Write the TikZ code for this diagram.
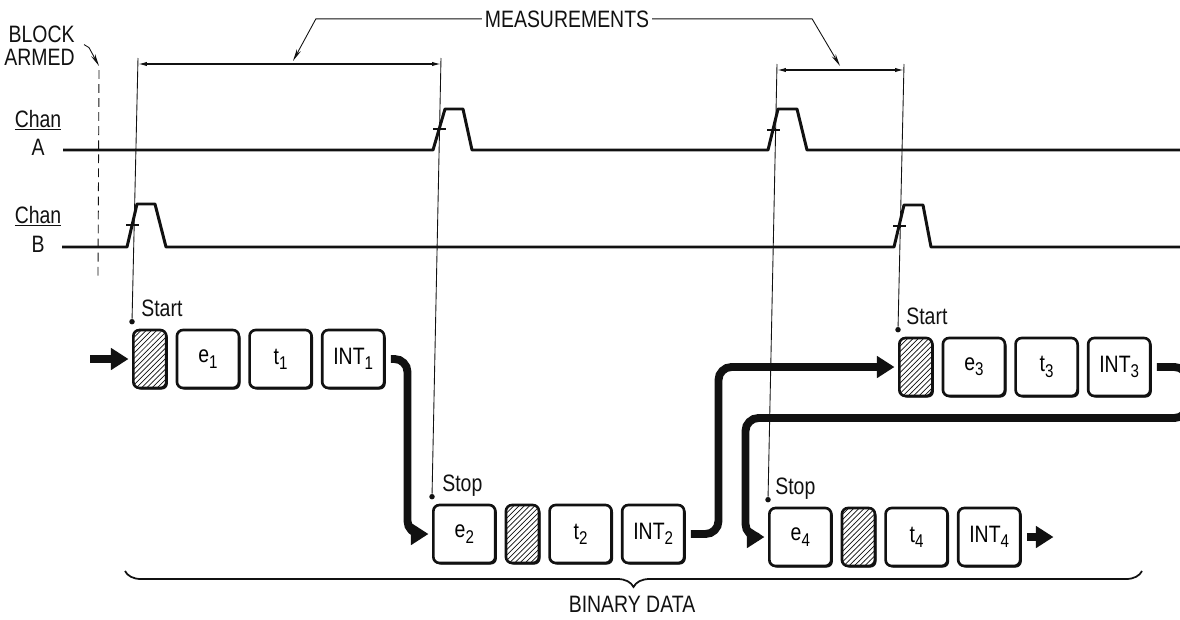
\documentclass[tikz,border=0pt]{standalone}
\usepackage{fontspec}
\setmainfont{Liberation Sans}[FakeStretch=0.82]
\usepackage{xcolor}
\usepackage{tikz}
\usetikzlibrary{arrows.meta, positioning, calc, patterns, shadows, decorations.pathreplacing}
\definecolor{tdInk}{HTML}{111111}
\newcommand{\tdsub}[1]{\raisebox{-3pt}{\fontsize{10.5}{10.5}\selectfont #1}}
\tikzset{
  tdcell/.style={draw=tdInk, fill=white, line width=1.5pt, rounded corners=3.5pt, minimum width=1.24cm,
                 minimum height=1.16cm, inner sep=0pt, font=\fontsize{13.5}{13.5}\selectfont,
                 drop shadow={shadow xshift=0.9pt, shadow yshift=-0.9pt, fill=tdInk, opacity=1}},
  tdhatch/.style={tdcell, minimum width=0.66cm, preaction={fill=white},
                  pattern=north east lines, pattern color=tdInk},
  tdsig/.style={draw=tdInk, line width=1.7pt, line join=round},
  tdflow/.style={draw=tdInk, line width=4.5pt, rounded corners=0.26cm, shorten >=2pt,
                 -{Triangle[length=10pt,width=12pt]}},
  tdext/.style={draw=tdInk, line width=0.5pt},
  tddim/.style={draw=tdInk, line width=0.7pt, {Latex[length=5pt,width=2.4pt]}-{Latex[length=5pt,width=2.4pt]}},
  tdcall/.style={draw=tdInk, line width=0.5pt, -{Stealth[length=7pt,width=2.6pt]}},
  tdtick/.style={draw=tdInk, line width=0.9pt},
  tdlbl/.style={font=\fontsize{13.5}{13}\selectfont, inner sep=0pt, text=tdInk},
  tddot/.style={circle, fill=tdInk, inner sep=0pt, minimum size=0.11cm},
}

\begin{document}
\begin{tikzpicture}[x=0.02cm, y=-0.02cm]
\useasboundingbox (0,0) rectangle (1180,619);

% channel names
\node[tdlbl, anchor=base] (chA) at (38,127) {\underline{Chan}};
\node[tdlbl, anchor=base] (lbA) at (38,155) {A};
\node[tdlbl, anchor=base] (chB) at (38,223) {\underline{Chan}};
\node[tdlbl, anchor=base] (lbB) at (38,252) {B};
\node[tdlbl, anchor=base east] (blk) at (75,42) {BLOCK};
\node[tdlbl, anchor=base east] (arm) at (75,65) {ARMED};

% waveforms
\draw[tdsig] (63,150) -- (433,150) -- (445,109) -- (463,109) -- (472,150) -- (768,150)
  -- (778,109) -- (797,109) -- (807,150) -- (1180,150);
\draw[tdsig] (62,247) -- (127,247) -- (137,204) -- (155,204) -- (166,247) -- (894,247)
  -- (904,205) -- (923,205) -- (931,247) -- (1180,247);
\draw[tdtick] (433,129) -- ++(13,0);
\draw[tdtick] (767,130) -- ++(13,0);
\draw[tdtick] (126,225) -- ++(13,0);
\draw[tdtick] (893,226) -- ++(13,0);
\draw[tdext, dash pattern=on 5pt off 3pt] (99,70) -- (98,276);

% data blocks
\node[tdhatch, anchor=west] (h1) at (132,359) {};
\node[tdcell, right=0.16cm of h1] (e1) {e\tdsub{1}};
\node[tdcell, right=0.16cm of e1] (t1) {t\tdsub{1}};
\node[tdcell, right=0.16cm of t1] (int1) {INT\tdsub{1}};

\node[tdcell, anchor=west] (e2) at (432,534) {e\tdsub{2}};
\node[tdhatch, right=0.16cm of e2] (h2) {};
\node[tdcell, right=0.16cm of h2] (t2) {t\tdsub{2}};
\node[tdcell, right=0.16cm of t2] (int2) {INT\tdsub{2}};

\node[tdhatch, anchor=west] (h3) at (898,367) {};
\node[tdcell, right=0.16cm of h3] (e3) {e\tdsub{3}};
\node[tdcell, right=0.16cm of e3] (t3) {t\tdsub{3}};
\node[tdcell, right=0.16cm of t3] (int3) {INT\tdsub{3}};

\node[tdcell, anchor=west] (e4) at (768,537) {e\tdsub{4}};
\node[tdhatch, right=0.16cm of e4] (h4) {};
\node[tdcell, right=0.16cm of h4] (t4) {t\tdsub{4}};
\node[tdcell, right=0.16cm of t4] (int4) {INT\tdsub{4}};

% start / stop marks
\node[tddot] (d1) at ($(h1.north west)+(0,-7)$) {};
\node[tddot] (d2) at ($(e2.north west)+(0,-7)$) {};
\node[tddot] (d3) at ($(h3.north west)+(0,-7)$) {};
\node[tddot] (d4) at ($(e4.north west)+(0,-7)$) {};
\node[tdlbl, anchor=base west] (st1) at ($(d1)+(9,-5)$) {Start};
\node[tdlbl, anchor=base west] (sp2) at ($(d2)+(10,-5)$) {Stop};
\node[tdlbl, anchor=base west] (st3) at ($(d3)+(8,-5)$) {Start};
\node[tdlbl, anchor=base west] (sp4) at ($(d4)+(7,-5)$) {Stop};

% measurement brackets
\coordinate (m1a) at (138,58);
\coordinate (m1b) at (441,58);
\coordinate (m2a) at (777,64);
\coordinate (m2b) at (904,64);
\draw[tdext] (m1a) -- (d1);
\draw[tdext] (m1b) -- (d2);
\draw[tdext] (m2a) -- (d4);
\draw[tdext] (m2b) -- (d3);
\draw[tddim] ([yshift=-0.12cm]m1a) -- ([yshift=-0.12cm]m1b);
\draw[tddim] ([yshift=-0.12cm]m2a) -- ([yshift=-0.12cm]m2b);

\node[tdlbl, inner sep=1.5pt, anchor=base] (meas) at (567,27) {MEASUREMENTS};
\coordinate (mt1) at (293,61);
\coordinate (mt2) at (840,66);
\draw[tdcall] (meas.west) -- ++(-166,0) -- (mt1);
\draw[tdcall] (meas.east) -- ++(160,0) -- (mt2);
\coordinate (armtip) at (99,66);
\draw[tdcall] ($(blk.south east)+(9,2)$) -- ++(5,3) -- (armtip);

% data flow
\coordinate (inp) at (90,359);
\coordinate (outp) at (1057,537);
\draw[tdflow] (inp) -- (h1.west);
\draw[tdflow, shorten <=3pt] (int1.east) -- ++(22,0) |- (e2.west);
\draw[tdflow, shorten <=3pt] (int2.east) -- ++(33,0) |- (h3.west);
\draw[tdflow, shorten <=3pt] (int3.east) -- ++(36,0) |- ++(-442,51) |- (e4.west);
\draw[tdflow, shorten <=3pt] (int4.east) -- (outp);

% binary data brace
\coordinate (bd1) at (125,571);
\coordinate (bd2) at (1142,571);
\draw[tdInk, line width=1pt, decorate, decoration={brace, mirror, amplitude=0.32cm}] (bd1) -- (bd2);
\node[tdlbl, anchor=base] (bin) at (632,612) {BINARY DATA};
\end{tikzpicture}
\end{document}
